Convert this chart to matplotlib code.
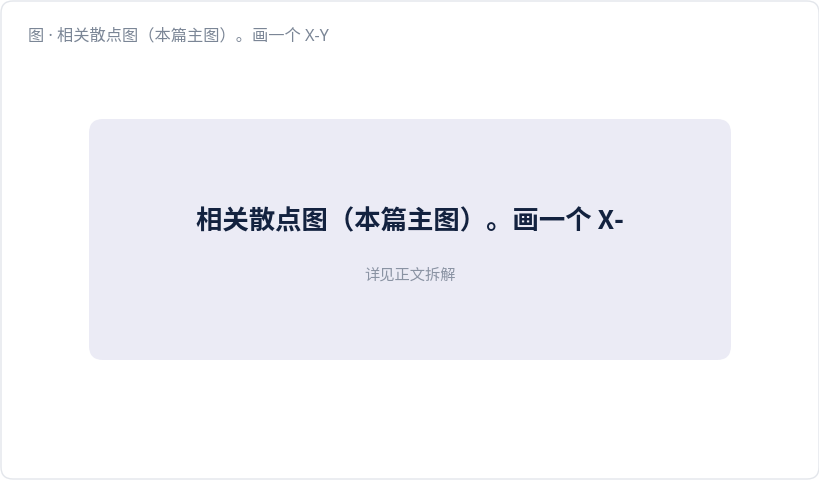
import matplotlib
matplotlib.use("Agg")
import matplotlib.pyplot as plt
from matplotlib.patches import FancyBboxPatch

# latin glyphs from Noto Sans, CJK falls back to Noto Sans CJK
plt.rcParams['font.family'] = ['Noto Sans', 'Noto Sans CJK SC', 'DejaVu Sans']

# texts of the placeholder card
caption = "图 · 相关散点图（本篇主图）。画一个 X-Y"
headline = "相关散点图（本篇主图）。画一个 X-"
subline = "详见正文拆解"

W, H = 820, 480
fig = plt.figure(figsize=(W / 100, H / 100), dpi=100)
ax = fig.add_axes([0, 0, 1, 1])
ax.set_xlim(0, W)
ax.set_ylim(H, 0)
ax.axis("off")

# outer card
card = FancyBboxPatch((1, 1), W - 2, H - 2, boxstyle="round,pad=0,rounding_size=12",
                      facecolor="white", edgecolor="#e3e6eb", linewidth=1)
ax.add_patch(card)

# inner placeholder panel
panel = FancyBboxPatch((89, 119), 642, 241, boxstyle="round,pad=0,rounding_size=14",
                       facecolor="#ebebf5", edgecolor="none")
ax.add_patch(panel)

ax.text(28, 36, caption, fontsize=11.7, color="#7b8696", ha="left", va="center")
# bold latin is missing from Noto Sans here, keep the whole headline in the CJK face
ax.text(410, 222, headline, fontsize=19, fontweight="bold", color="#13223f",
        ha="center", va="center", family=['Noto Sans CJK SC', 'DejaVu Sans'])
ax.text(410, 276, subline, fontsize=11, color="#8a93a3", ha="center", va="center")

fig.savefig("out.png", dpi=100)
